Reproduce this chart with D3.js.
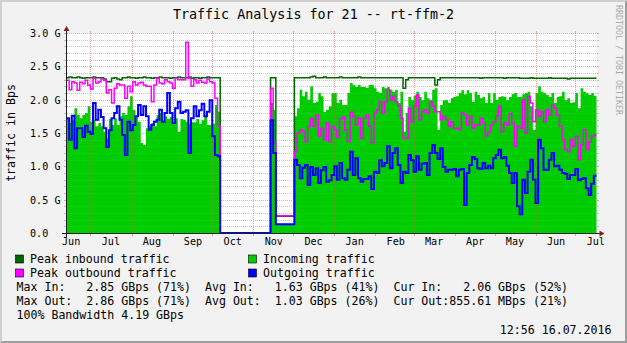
<!DOCTYPE html>
<html><head><meta charset="utf-8">
<script src="https://cdn.jsdelivr.net/npm/d3@7"></script>
<style>
html,body{margin:0;padding:0;background:#F2F2F2;}
svg{display:block;}
text{font-family:"DejaVu Sans Mono",monospace;white-space:pre;}
</style></head><body>
<svg id="c" width="627" height="343"></svg>
<script>
// ---------------- data ----------------
const chartTitle = "Traffic Analysis for 21 -- rt-ffm-2";
const yAxisTitle = "traffic in Bps";
const watermark = "RRDTOOL / TOBI OETIKER";
const startTime = new Date(2015, 5, 12, 12, 56);   // first sample
const stepDays = 2;                                  // one value every 2 days
const endTime = new Date(2016, 6, 16, 12, 56);

// values in GBps
const peakIn = [
2.33,2.34,2.33,2.33,2.34,2.33,2.32,2.33,2.33,2.33,
2.34,2.33,2.33,2.33,2.31,2.27,2.27,2.32,2.33,2.31,
2.30,2.33,2.33,2.34,2.33,2.33,2.32,2.33,2.33,2.34,
2.33,2.33,2.32,2.33,2.33,2.34,2.33,2.33,2.33,2.32,
2.33,2.33,2.34,2.33,2.33,2.33,2.34,2.32,2.33,2.33,
2.32,2.33,2.33,2.34,2.33,2.33,2.33,2.33,0,0,
0,0,0,0,0,0,0,0,0,0,
0,0,0,0,0,0,0,2.33,2.33,0.25,
0.25,0.25,0.25,0.25,0.25,0.25,2.33,2.33,2.33,2.33,
2.33,2.33,2.34,2.35,2.33,2.33,2.33,2.34,2.33,2.33,
2.33,2.33,2.33,2.34,2.33,2.33,2.33,2.33,2.33,2.33,
2.34,2.33,2.33,2.33,2.33,2.33,2.33,2.33,2.33,2.33,
2.33,2.33,2.33,2.33,2.33,2.33,2.33,2.17,2.30,2.33,
2.33,2.33,2.33,2.33,2.33,2.33,2.33,2.33,2.33,2.22,
2.30,2.33,2.33,2.33,2.33,2.33,2.33,2.33,2.33,2.33,
2.33,2.33,2.33,2.33,2.33,2.33,2.32,2.33,2.33,2.33,
2.33,2.33,2.33,2.33,2.33,2.32,2.33,2.33,2.33,2.33,
2.33,2.32,2.32,2.32,2.32,2.33,2.32,2.32,2.32,2.32,
2.32,2.32,2.33,2.32,2.32,2.32,2.32,2.32,2.32,2.31,
2.32,2.32,2.32,2.32,2.32,2.32,2.32,2.32,2.32,2.32];

const incoming = [
1.72,1.65,1.70,1.87,1.77,1.72,1.77,1.80,1.90,1.67,
1.70,1.60,1.65,1.60,1.52,1.42,1.71,1.62,1.72,1.62,
1.75,1.80,1.77,1.90,2.05,1.85,1.75,1.67,1.35,1.32,
1.57,1.60,1.65,1.60,1.77,1.80,1.67,1.75,1.71,1.74,
1.65,1.72,1.52,1.71,1.70,1.67,1.64,1.66,1.66,1.71,
1.64,1.69,1.75,1.62,1.62,1.64,1.92,1.82,0,0,
0,0,0,0,0,0,0,0,0,0,
0,0,0,0,0,0,0,1.95,1.85,0.12,
0.12,0.12,0.12,0.12,0.12,0.12,1.75,1.87,2.15,2.05,
2.12,2.00,2.20,1.95,1.97,2.10,2.05,1.82,1.85,1.90,
2.10,2.10,1.95,2.00,1.92,1.92,2.10,2.25,2.22,2.19,
2.22,2.19,2.19,2.18,2.22,2.22,2.17,2.12,2.10,2.19,
2.17,2.19,2.15,2.12,2.15,1.95,2.12,1.52,1.80,2.04,
1.99,2.06,2.12,2.04,1.99,2.12,2.02,2.00,2.15,2.17,
1.55,1.92,1.99,1.99,1.95,2.02,2.04,2.05,2.10,2.14,
2.08,2.14,2.10,1.97,2.12,2.07,2.02,2.04,1.95,2.10,
1.95,2.10,2.00,2.04,2.05,2.04,1.99,2.04,2.08,2.10,
2.04,2.04,2.08,2.10,2.12,1.90,1.55,2.10,2.20,2.12,
2.10,2.07,2.04,2.10,1.95,2.04,2.05,2.12,1.99,2.02,
1.95,1.96,2.10,1.87,2.17,2.12,2.10,2.07,2.10,2.06];

const peakOut = [
2.29,2.15,2.27,2.25,2.14,2.26,2.24,2.29,2.22,2.16,
2.32,2.25,2.27,2.31,2.29,2.10,2.15,1.95,2.17,2.24,
2.22,2.22,2.02,2.20,2.12,2.27,2.22,2.25,2.26,2.22,
2.20,2.20,1.97,2.22,2.32,2.25,2.24,2.30,2.27,2.25,
2.17,2.32,2.30,2.30,2.30,2.86,2.32,2.20,2.30,2.25,
2.29,2.26,2.25,2.31,2.27,2.25,2.02,1.60,0,0,
0,0,0,0,0,0,0,0,0,0,
0,0,0,0,0,0,0,2.17,1.35,0.26,
0.26,0.26,0.26,0.26,0.26,0.26,1.22,1.50,1.55,1.52,
1.37,1.60,1.72,1.60,1.77,1.45,1.57,1.40,1.65,1.37,
1.60,1.55,1.44,1.71,1.74,1.55,1.37,1.81,1.75,1.62,
1.72,1.42,1.72,1.77,1.60,1.35,1.80,1.85,1.97,1.80,
1.97,2.15,2.00,2.05,1.97,1.90,1.72,1.42,1.42,1.87,
1.67,1.90,2.07,1.70,1.82,1.85,1.80,1.97,1.90,1.82,
1.82,1.70,1.75,1.70,1.60,1.67,1.57,1.57,1.55,1.80,
1.77,1.62,1.75,1.57,1.62,1.62,1.72,1.65,1.46,1.52,
1.62,1.67,1.76,1.90,1.52,1.65,1.62,1.79,1.65,1.30,
1.60,1.57,2.00,1.50,2.05,1.95,1.67,1.85,1.75,1.82,
1.67,1.85,1.77,1.92,1.87,1.77,1.60,1.40,1.25,1.22,
1.40,1.30,1.45,1.10,1.32,1.55,1.25,1.37,1.45,1.47];

const outgoing = [
1.72,1.40,1.76,1.27,1.57,1.57,1.44,1.61,1.52,1.49,
1.95,1.70,1.85,1.74,1.57,1.29,1.54,1.72,1.80,1.90,
1.70,1.47,1.17,1.67,1.54,1.62,1.75,1.92,1.77,1.90,
1.75,1.55,1.62,1.67,1.70,1.85,1.67,1.80,2.10,1.80,
1.65,1.87,1.97,1.80,1.82,1.84,1.20,1.72,1.90,1.75,
1.84,1.94,1.75,1.82,1.99,1.45,1.17,1.15,0,0,
0,0,0,0,0,0,0,0,0,0,
0,0,0,0,0,0,0,1.69,1.20,0.13,
0.13,0.13,0.13,0.13,0.13,0.13,1.10,1.02,0.82,0.98,
1.02,0.72,0.99,0.87,0.97,0.75,0.94,0.99,0.77,0.79,
0.87,1.00,0.80,1.05,0.82,0.80,0.95,1.22,0.87,1.12,
0.82,0.77,0.81,0.81,0.85,0.66,0.92,0.90,1.09,1.00,
1.05,1.30,0.97,1.20,1.27,1.02,0.75,0.92,0.90,1.17,
1.09,0.92,1.15,0.95,1.04,1.05,0.87,1.20,1.32,1.20,
1.11,1.27,0.99,0.92,0.95,0.95,0.96,0.85,0.95,0.96,
0.42,0.90,1.02,1.14,1.11,0.97,0.96,1.05,0.97,1.01,
0.97,1.12,1.17,1.25,1.12,1.14,1.01,0.90,0.75,0.90,
0.40,0.28,0.80,0.60,0.92,1.10,0.80,0.45,1.40,1.27,
0.95,0.95,1.10,1.20,1.00,1.01,0.95,0.90,0.89,0.81,
0.87,0.87,0.96,0.79,0.81,0.82,0.67,0.57,0.74,0.86];

const yMax = 3.0;
const yTickValues = [0, 0.5, 1.0, 1.5, 2.0, 2.5, 3.0];
const yTickLabels = ["0.0", "0.5 G", "1.0 G", "1.5 G", "2.0 G", "2.5 G", "3.0 G"];
const monthLabels = ["Jun","Jul","Aug","Sep","Oct","Nov","Dec","Jan","Feb","Mar","Apr","May","Jun","Jul"];

const legendLabels = ["Peak inbound traffic", "Incoming traffic", "Peak outbound traffic", "Outgoing traffic"];
const legendColors = ["#006600", "#00CC00", "#FF00FF", "#0000FF"];
const statsLines = [
  "Max In:   2.85 GBps (71%)  Avg In:   1.63 GBps (41%)  Cur In:   2.06 GBps (52%)",
  "Max Out:  2.86 GBps (71%)  Avg Out:  1.03 GBps (26%)  Cur Out:855.61 MBps (21%)",
  "100% Bandwidth 4.19 GBps"
];
const timestamp = "12:56 16.07.2016";

// ---------------- drawing ----------------
const W = 627, H = 343;
const L = 66.5, R = 596.5, T = 33, B = 233;
const svg = d3.select("#c");

svg.append("rect").attr("width", W).attr("height", H).attr("fill", "#F2F2F2");
// 3D frame
svg.append("path").attr("d", `M0,0H${W}L${W-2},2H2V${H-2}L0,${H}Z`).attr("fill", "#CFCFCF");
svg.append("path").attr("d", `M${W},0V${H}H0L2,${H-2}H${W-2}V2Z`).attr("fill", "#9E9E9E");

const x = d3.scaleTime().domain([startTime, endTime]).range([L, R]);
const y = d3.scaleLinear().domain([0, yMax]).range([B, T]);

svg.append("rect").attr("x", 67).attr("y", T).attr("width", R - 67).attr("height", B - T).attr("fill", "#FFFFFF");

const N = incoming.length;
const times = d3.range(N + 1).map(i => new Date(startTime.getTime() + i * stepDays * 864e5));
function pts(arr) {
  const p = arr.map((v, i) => ({t: times[i], v}));
  p.push({t: times[N], v: arr[N - 1]});
  return p;
}

const area = d3.area().x(d => x(d.t)).y0(y(0)).y1(d => y(d.v)).curve(d3.curveStepAfter);
const line = d3.line().x(d => x(d.t)).y(d => y(d.v)).curve(d3.curveStepAfter);

svg.append("path").attr("d", area(pts(incoming))).attr("fill", "#00CC00");

// grid (drawn above area)
const gridMinor = "rgba(143,143,143,0.5)";
const gridMajor = "rgba(222,79,79,0.5)";
const grid = svg.append("g").attr("shape-rendering", "crispEdges");
const minorVals = d3.range(0, 31).map(k => k / 10);
minorVals.forEach(v => {
  const isMajor = Math.abs(v * 2 - Math.round(v * 2)) < 1e-6;
  const yy = Math.round(y(v)) + 0.5;
  const col = isMajor ? gridMajor : gridMinor;
  if (v > 0) {
    grid.append("line").attr("x1", 67).attr("x2", R + 0.5).attr("y1", yy).attr("y2", yy)
      .attr("stroke", col).attr("stroke-dasharray", "1,1");
  }
  grid.append("line").attr("x1", L - 2.5).attr("x2", L).attr("y1", yy).attr("y2", yy).attr("stroke", col);
  grid.append("line").attr("x1", R).attr("x2", R + 2.5).attr("y1", yy).attr("y2", yy).attr("stroke", col);
});
const monthStarts = d3.timeMonth.range(new Date(2015, 6, 1), endTime);
monthStarts.forEach(d => {
  const xx = Math.floor(x(d)) + 0.5;
  grid.append("line").attr("x1", xx).attr("x2", xx).attr("y1", T).attr("y2", B)
    .attr("stroke", gridMajor).attr("stroke-dasharray", "1,1");
  grid.append("line").attr("x1", xx).attr("x2", xx).attr("y1", B).attr("y2", B + 3).attr("stroke", gridMajor);
  grid.append("line").attr("x1", xx).attr("x2", xx).attr("y1", T - 2).attr("y2", T).attr("stroke", gridMajor);
});

// lines
svg.append("path").attr("d", line(pts(peakIn))).attr("fill", "none").attr("stroke", "#006600").attr("stroke-width", 1.5);
svg.append("path").attr("d", line(pts(peakOut))).attr("fill", "none").attr("stroke", "#FF00FF").attr("stroke-width", 1.5);
svg.append("path").attr("d", line(pts(outgoing))).attr("fill", "none").attr("stroke", "#0000FF").attr("stroke-width", 2);

// axes
const ax = svg.append("g");
ax.append("line").attr("x1", 62).attr("x2", 600).attr("y1", B + 0.5).attr("y2", B + 0.5)
  .attr("stroke", "#1F1F1F").attr("shape-rendering", "crispEdges");
ax.append("line").attr("x1", L).attr("x2", L).attr("y1", B + 4).attr("y2", 30)
  .attr("stroke", "#1F1F1F").attr("shape-rendering", "crispEdges");
ax.append("path").attr("d", `M${R+3},${B-2.5}L${R+8},${B+0.5}L${R+3},${B+3.5}Z`).attr("fill", "#801F1F");
ax.append("path").attr("d", `M${L-3},${T-2}L${L},${T-7}L${L+3},${T-2}Z`).attr("fill", "#801F1F");

// y tick labels
yTickValues.forEach((v, i) => {
  svg.append("text").attr("x", 30).attr("y", Math.round(y(v)) + 4)
    .attr("font-size", "10.15px").attr("fill", "#000").text(yTickLabels[i]);
});
// x tick labels (centred mid-month)
const labelMonths = d3.timeMonth.range(new Date(2015, 5, 1), new Date(2016, 7, 1));
labelMonths.forEach((d, i) => {
  const mid = new Date(d.getFullYear(), d.getMonth(), 16);
  svg.append("text").attr("x", x(mid)).attr("y", 245).attr("text-anchor", "middle")
    .attr("font-size", "10.15px").attr("fill", "#000").text(monthLabels[i]);
});

// title
svg.append("text").attr("x", 313.5).attr("y", 18.5).attr("text-anchor", "middle")
  .attr("font-size", "13.35px").attr("fill", "#000").text(chartTitle);
// y axis title
svg.append("text").attr("transform", "translate(14.5,133) rotate(-90)").attr("text-anchor", "middle")
  .attr("font-size", "11.6px").attr("fill", "#000").text(yAxisTitle);
// watermark
svg.append("text").attr("transform", "translate(616,5) rotate(90)")
  .attr("font-size", "8.3px").attr("fill", "#AAAAAA").text(watermark);

// legend
const legPos = [[15.5, 262.5], [248.5, 262.5], [15.5, 276.5], [248.5, 276.5]];
legendLabels.forEach((lab, i) => {
  const [lx, ly] = legPos[i];
  svg.append("rect").attr("x", lx).attr("y", ly - 7.5).attr("width", 8).attr("height", 8)
    .attr("fill", legendColors[i]).attr("stroke", "#000").attr("stroke-width", 0.6);
  svg.append("text").attr("x", lx + 14.5).attr("y", ly + 0.5).attr("font-size", "11.6px").attr("fill", "#000").text(lab);
});
statsLines.forEach((s, i) => {
  svg.append("text").attr("x", 16.5).attr("y", 291 + i * 14).attr("font-size", "11.6px").attr("fill", "#000").text(s);
});
svg.append("text").attr("x", 611.5).attr("y", 333.5).attr("text-anchor", "end")
  .attr("font-size", "11.6px").attr("fill", "#000").text(timestamp);
</script>
</body></html>
